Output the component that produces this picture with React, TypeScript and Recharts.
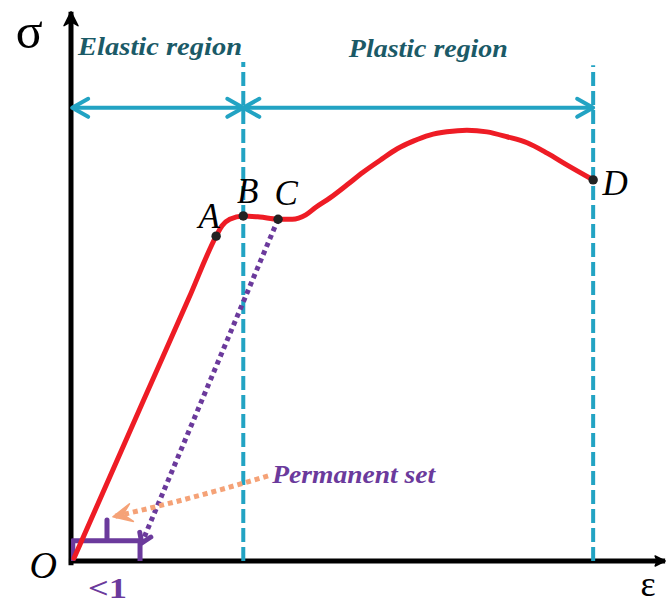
import React from 'react';
import { ComposedChart, Line, XAxis, YAxis, ReferenceLine, ReferenceDot } from 'recharts';

// Stress–strain curve (arbitrary units: strain 0–100, stress 0–100)
const strain = [0.5, 12, 20, 24.6, 25.6, 26.9, 29.2, 32.0, 35.1, 37.5, 39.8, 41.5, 43.9, 46.8, 49.5, 52.4, 55.3, 58.0, 60.8, 63.7, 67.1, 70.5, 73.9, 77.3, 80.7, 84.1, 88.5];
const stress = [0.5, 28.7, 48.2, 59.5, 61.4, 62.6, 63.2, 63.0, 62.6, 62.6, 63.4, 64.8, 66.5, 68.9, 71.2, 73.4, 75.5, 76.9, 78.0, 78.6, 78.9, 78.6, 77.7, 76.6, 74.7, 72.5, 69.8];

const pointNames = ['A', 'B', 'C', 'D'];
const pointStrain = [24.6, 29.2, 35.1, 88.5];
const pointStress = [59.5, 63.2, 62.6, 69.8];

const elasticLimit = 29.2; // B
const fracture = 88.5; // D
const regionArrowStress = 83.0;
const regionLineTop = 91.4;

const unloadFrom = { x: 35.1, y: 62.6 };
const unloadTo = { x: 12.0, y: 3.3 };

const braceX = [0.3, 0.3, 6.1, 6.1, 6.1, 11.7, 11.7];
const braceY = [-0.3, 3.7, 3.7, 7.5, 3.7, 3.7, 0];

const curveData = strain.map((x, i) => ({ x, y: stress[i] }));
const braceData = braceX.map((x, i) => ({ x, y: braceY[i] }));

const RED = '#ee1c25';
const TEAL = '#22a3c3';
const DARKTEAL = '#1b5a67';
const PURPLE = '#6b3a9c';
const ORANGE = '#f5a277';
const SERIF = '"Liberation Serif", "DejaVu Serif", serif';

type ArrowOpts = {
  color: string;
  width: number;
  dash?: string;
  start?: boolean;
  end?: boolean;
  len: number;
  half: number;
  bend?: number;
  filled?: boolean;
  notch?: number;
  cap?: 'butt' | 'round' | 'square';
};

function makeArrow(o: ArrowOpts) {
  return (p: any) => {
    const x1 = Number(p.x1), y1 = Number(p.y1), x2 = Number(p.x2), y2 = Number(p.y2);
    const dx = x2 - x1, dy = y2 - y1;
    const L = Math.hypot(dx, dy) || 1;
    const ux = dx / L, uy = dy / L;
    const nx = -uy, ny = ux;
    const bend = o.bend || 0;
    const cx = (x1 + x2) / 2 + nx * bend;
    const cy = (y1 + y2) / 2 + ny * bend;
    const d = bend ? `M${x1},${y1} Q${cx},${cy} ${x2},${y2}` : `M${x1},${y1} L${x2},${y2}`;
    const head = (tx: number, ty: number, fx: number, fy: number, key: string) => {
      const l = Math.hypot(tx - fx, ty - fy) || 1;
      const vx = (tx - fx) / l, vy = (ty - fy) / l;
      const px = -vy, py = vx;
      const ax = tx - vx * o.len + px * o.half, ay = ty - vy * o.len + py * o.half;
      const bx = tx - vx * o.len - px * o.half, by = ty - vy * o.len - py * o.half;
      if (o.filled) {
        const k = o.notch ?? 0.55;
        const nxp = tx - vx * o.len * k, nyp = ty - vy * o.len * k;
        return <polygon key={key} points={`${tx},${ty} ${ax},${ay} ${nxp},${nyp} ${bx},${by}`} fill={o.color} stroke={o.color} strokeWidth={1.5} strokeLinejoin="round" />;
      }
      return <polyline key={key} points={`${ax},${ay} ${tx},${ty} ${bx},${by}`} fill="none" stroke={o.color} strokeWidth={o.width} strokeLinecap="round" strokeLinejoin="round" />;
    };
    return (
      <g>
        <path d={d} fill="none" stroke={o.color} strokeWidth={o.width} strokeDasharray={o.dash} strokeLinecap={o.cap || 'butt'} />
        {o.end ? head(x2, y2, bend ? cx : x1, bend ? cy : y1, 'e') : null}
        {o.start ? head(x1, y1, bend ? cx : x2, bend ? cy : y2, 's') : null}
      </g>
    );
  };
}

const textAt = (label: string, style: React.SVGProps<SVGTextElement>) => (p: any) => (
  <text x={p.cx} y={p.cy} {...style}>{label}</text>
);

const labelOffsets = [
  { dx: -7, dy: -8 },
  { dx: 4.5, dy: -13 },
  { dx: 8, dy: -14 },
  { dx: 22, dy: 15 },
];

export default function App() {
  return (
    <div style={{ position: 'absolute', left: 0, top: 0, background: '#fff' }}>
      <ComposedChart width={667} height={605} margin={{ top: 15, right: 6, bottom: 44, left: 71 }}>
        <XAxis type="number" dataKey="x" domain={[0, 100]} allowDataOverflow height={0} tick={false} tickLine={false} axisLine={false} />
        <YAxis type="number" dataKey="y" domain={[0, 100]} allowDataOverflow width={0} tick={false} tickLine={false} axisLine={false} />

        {/* axes with arrowheads */}
        <ReferenceLine segment={[{ x: 0, y: -0.8 }, { x: 0, y: 100.6 }]} ifOverflow="visible"
          shape={makeArrow({ color: '#000', width: 5, end: true, len: 14, half: 7, filled: true, notch: 0.7 })} />
        <ReferenceLine segment={[{ x: -0.35, y: 0 }, { x: 100.7, y: 0 }]} ifOverflow="visible"
          shape={makeArrow({ color: '#000', width: 5, end: true, len: 10, half: 5, filled: true, notch: 0.8 })} />

        {/* region boundaries */}
        <ReferenceLine segment={[{ x: elasticLimit, y: 0 }, { x: elasticLimit, y: regionLineTop }]} stroke={TEAL} strokeWidth={4} strokeDasharray="14 5" />
        <ReferenceLine segment={[{ x: fracture, y: 0 }, { x: fracture, y: regionLineTop - 0.6 }]} stroke={TEAL} strokeWidth={4} strokeDasharray="14 5" />

        {/* region arrows */}
        <ReferenceLine segment={[{ x: 0.2, y: regionArrowStress }, { x: elasticLimit, y: regionArrowStress }]} ifOverflow="visible"
          shape={makeArrow({ color: TEAL, width: 4, start: true, end: true, len: 16, half: 9 })} />
        <ReferenceLine segment={[{ x: elasticLimit, y: regionArrowStress }, { x: fracture, y: regionArrowStress }]} ifOverflow="visible"
          shape={makeArrow({ color: TEAL, width: 4, start: true, end: true, len: 16, half: 9 })} />

        {/* unloading line */}
        <ReferenceLine segment={[unloadFrom, unloadTo]} ifOverflow="visible"
          shape={makeArrow({ color: PURPLE, width: 5, dash: '4.5 4', end: true, len: 9, half: 6 })} />

        {/* permanent set pointer */}
        <ReferenceLine segment={[{ x: 33.4, y: 15.6 }, { x: 7.1, y: 8.1 }]} ifOverflow="visible"
          shape={makeArrow({ color: ORANGE, width: 5, dash: '5 4', end: true, len: 19, half: 9, bend: -3, filled: true })} />

        {/* brace */}
        <Line data={braceData} dataKey="y" type="linear" stroke={PURPLE} strokeWidth={5} dot={false} isAnimationActive={false} strokeLinejoin="round" />

        {/* stress-strain curve */}
        <Line data={curveData} dataKey="y" type="monotone" stroke={RED} strokeWidth={5} dot={false} isAnimationActive={false} strokeLinecap="round" />

        {/* key points */}
        {pointNames.map((name, i) => (
          <ReferenceDot key={name} x={pointStrain[i]} y={pointStress[i]} ifOverflow="visible" shape={(p: any) => (
            <g>
              <circle cx={p.cx} cy={p.cy} r={4.7} fill="#222" />
              <text x={p.cx + labelOffsets[i].dx} y={p.cy + labelOffsets[i].dy} textAnchor="middle" fontFamily={SERIF} fontStyle="italic" fontSize={35} fill="#000">{name}</text>
            </g>
          )} />
        ))}

        {/* texts */}
        <ReferenceDot x={1.2} y={92.7} ifOverflow="visible" shape={textAt('Elastic region', { fontFamily: SERIF, fontStyle: 'italic', fontWeight: 700, fontSize: 26, fill: DARKTEAL, textLength: 164, lengthAdjust: 'spacingAndGlyphs' })} />
        <ReferenceDot x={47.1} y={92.3} ifOverflow="visible" shape={textAt('Plastic region', { fontFamily: SERIF, fontStyle: 'italic', fontWeight: 700, fontSize: 26, fill: DARKTEAL, textLength: 159, lengthAdjust: 'spacingAndGlyphs' })} />
        <ReferenceDot x={34.1} y={14.3} ifOverflow="visible" shape={textAt('Permanent set', { fontFamily: SERIF, fontStyle: 'italic', fontWeight: 700, fontSize: 25, fill: PURPLE, textLength: 163, lengthAdjust: 'spacingAndGlyphs' })} />
        <ReferenceDot x={6.2} y={-6.8} ifOverflow="visible" shape={textAt('<1', { fontFamily: SERIF, fontWeight: 700, fontSize: 29, fill: PURPLE, textAnchor: 'middle', textLength: 39, lengthAdjust: 'spacingAndGlyphs' })} />
        <ReferenceDot x={-7.1} y={94.0} ifOverflow="visible" shape={textAt('σ', { fontFamily: SERIF, fontSize: 50, fill: '#000', textAnchor: 'middle' })} />
        <ReferenceDot x={97.8} y={-6.5} ifOverflow="visible" shape={textAt('ε', { fontFamily: SERIF, fontSize: 36, fill: '#000', textAnchor: 'middle' })} />
        <ReferenceDot x={-4.7} y={-3.1} ifOverflow="visible" shape={textAt('O', { fontFamily: SERIF, fontStyle: 'italic', fontSize: 38, fill: '#000', textAnchor: 'middle' })} />
      </ComposedChart>
    </div>
  );
}
